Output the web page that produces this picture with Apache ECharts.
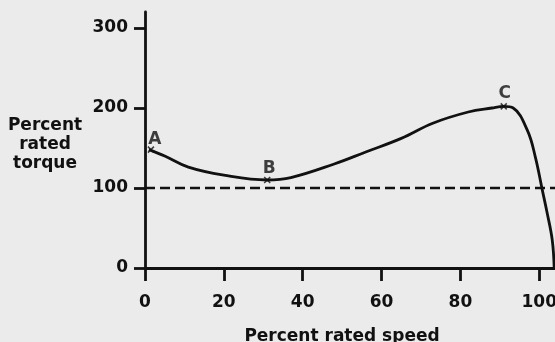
<!DOCTYPE html>
<html>
<head>
<meta charset="utf-8">
<script src="https://cdn.jsdelivr.net/npm/echarts@6/dist/echarts.min.js"></script>
<style>html,body{margin:0;padding:0;background:#ebebeb;}#c{width:555px;height:342px;}</style>
</head>
<body>
<div id="c"></div>
<script>
// Torque-speed curve (percent rated speed vs percent rated torque)
var speed  = [1, 5, 11, 20, 31, 37, 48, 56, 65, 73, 82, 88, 91, 93.4, 97, 99, 100.8, 102, 103.3, 103.8];
var torque = [148, 140, 126, 116, 110, 113, 130, 145, 162, 181, 195, 200, 202, 200, 172, 139, 97, 69, 35, 0];
// Rated torque reference line
var ratedSpeed  = [0, 104];
var ratedTorque = [100, 100];
// Marked points
var pointNames  = ['A', 'B', 'C'];
var pointSpeed  = [1.5, 31, 91];
var pointTorque = [148, 110, 202];
// Ticks
var xTicks = [0, 20, 40, 60, 80, 100];
var yTicks = [0, 100, 200, 300];
var xName = 'Percent rated speed';
var yName = 'Percent\nrated\ntorque';

var FONT = 'DejaVu Sans';
var INK = '#111';

var curve = speed.map(function (s, i) { return [s, torque[i]]; });
var rated = ratedSpeed.map(function (s, i) { return [s, ratedTorque[i]]; });
var pts = pointNames.map(function (n, i) { return { name: n, value: [pointSpeed[i], pointTorque[i]] }; });

var chart = echarts.init(document.getElementById('c'), null, { renderer: 'canvas' });
chart.setOption({
  backgroundColor: '#ebebeb',
  animation: false,
  grid: { left: 145, right: 0, top: 12, bottom: 74, containLabel: false, outerBoundsMode: 'none' },
  xAxis: {
    type: 'value', min: 0, max: 104,
    splitLine: { show: false },
    axisLine: { onZero: false, lineStyle: { color: INK, width: 2.8 } },
    axisTick: { show: true, length: 13, customValues: xTicks, lineStyle: { color: INK, width: 2.8 } },
    axisLabel: { customValues: xTicks, margin: 26, color: INK, fontFamily: FONT, fontWeight: 'bold', fontSize: 17 },
    name: xName, nameLocation: 'middle', nameGap: 60,
    nameTextStyle: { color: INK, fontFamily: FONT, fontWeight: 'bold', fontSize: 17, padding: [0, 16, 0, 0] }
  },
  yAxis: {
    type: 'value', min: 0, max: 320,
    splitLine: { show: false },
    axisLine: { onZero: false, lineStyle: { color: INK, width: 2.8 } },
    axisTick: { show: true, length: 11, customValues: yTicks, lineStyle: { color: INK, width: 2.8 } },
    axisLabel: { customValues: yTicks, margin: 17, color: INK, fontFamily: FONT, fontWeight: 'bold', fontSize: 17 }
  },
  graphic: [{
    type: 'text', left: 7, top: 116,
    style: { text: yName, x: 0, y: 0, align: 'center', textAlign: 'center', fill: INK,
      font: 'bold 17px "DejaVu Sans"', lineHeight: 19, width: 76 }
  }],
  series: [
    {
      type: 'line', data: rated, symbol: 'none',
      lineStyle: { color: INK, width: 2.6, type: [10, 5] }
    },
    {
      type: 'line', data: curve, symbol: 'none', smooth: 0.4, clip: false,
      lineStyle: { color: INK, width: 2.8 }
    },
    {
      type: 'scatter', data: pts,
      symbol: 'path://M0,0L10,10M10,0L0,10', symbolSize: 6,
      itemStyle: { color: 'rgba(0,0,0,0)', borderColor: INK, borderWidth: 1.5 },
      label: {
        show: true, position: 'top', distance: 4, formatter: '{b}',
        color: INK, fontFamily: FONT, fontWeight: 'bold', fontSize: 17
      },
      labelLayout: function (p) {
        if (p.dataIndex === 0) return { dx: 4, dy: 6 };
        if (p.dataIndex === 1) return { dx: 2, dy: 5 };
        return { dx: 1, dy: 3 };
      }
    }
  ]
});
</script>
</body>
</html>
